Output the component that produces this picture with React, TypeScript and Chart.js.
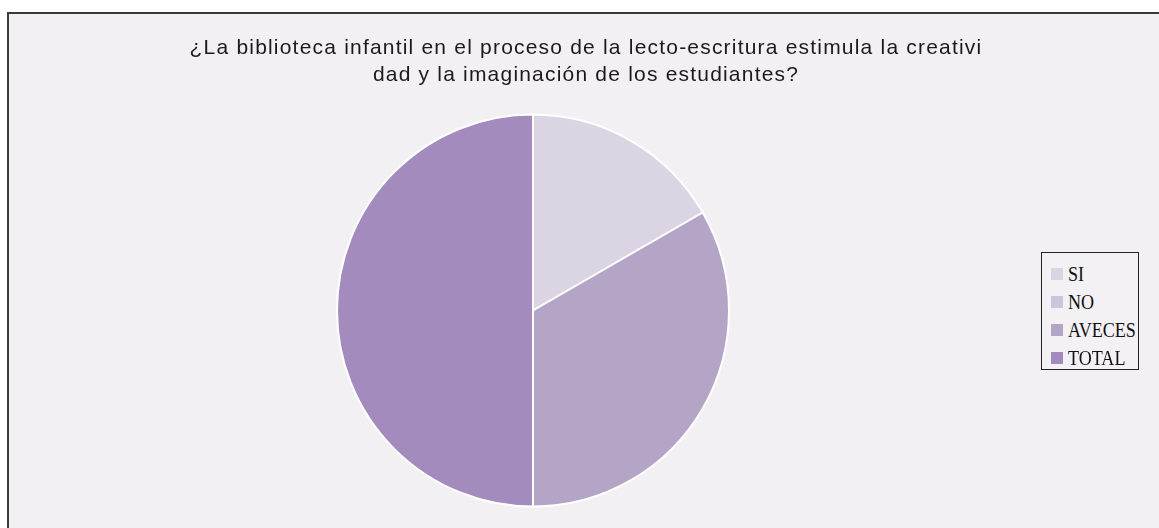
import React, { useEffect, useRef } from "react";
import { Chart, registerables } from "chart.js";

Chart.register(...registerables);

const titleLines = [
  "¿La biblioteca infantil en el proceso de la lecto-escritura estimula la creativi",
  "dad y la imaginación de los estudiantes?",
];
const categories = ["SI", "NO", "AVECES", "TOTAL"];
const values = [5, 0, 10, 15];
const colors = ["#dbd4e3", "#cdc5da", "#b4a5c7", "#a38cbd"];

export default function App() {
  const canvasRef = useRef<HTMLCanvasElement | null>(null);

  useEffect(() => {
    const canvas = canvasRef.current;
    if (!canvas) return;
    const chart = new Chart(canvas, {
      type: "pie",
      data: {
        labels: categories,
        datasets: [
          {
            data: values,
            backgroundColor: colors,
            borderColor: "#ffffff",
            borderWidth: 2,
            radius: 196,
          } as any,
        ],
      },
      options: {
        responsive: false,
        maintainAspectRatio: false,
        animation: false,
        layout: {
          padding: { left: 336.5, right: 429.5, top: 114, bottom: 21 },
        },
        plugins: {
          legend: { display: false },
          title: { display: false },
          tooltip: { enabled: false },
        },
      },
    });
    return () => chart.destroy();
  }, []);

  return (
    <div
      style={{
        position: "fixed",
        left: 0,
        top: 0,
        width: 1159,
        height: 528,
        overflow: "hidden",
        background: "#ffffff",
      }}
    >
      <div
        style={{
          position: "absolute",
          left: 7,
          top: 12,
          width: 1200,
          height: 600,
          borderLeft: "2px solid #3a3a3a",
          borderTop: "2px solid #3a3a3a",
          background: "#f2f0f3",
        }}
      />
      <canvas
        ref={canvasRef}
        width={1159}
        height={528}
        style={{ position: "absolute", left: 0, top: 0, width: 1159, height: 528 }}
      />
      <div
        style={{
          position: "absolute",
          left: 136,
          width: 900,
          top: 33,
          textAlign: "center",
          fontFamily: "'Liberation Sans', Arial, sans-serif",
          fontSize: 21,
          lineHeight: "27px",
          color: "#1a1a1a",
          letterSpacing: "1.2px",
          whiteSpace: "nowrap",
        }}
      >
        {titleLines.map((t, i) => (
          <div key={i}>{t}</div>
        ))}
      </div>
      <div
        style={{
          position: "absolute",
          left: 1041,
          top: 252,
          width: 96,
          height: 109,
          border: "1px solid #222222",
          background: "#f3f1f4",
          paddingTop: 7,
          boxSizing: "content-box",
          fontFamily: "'Liberation Serif', 'Times New Roman', serif",
          fontSize: 21,
          color: "#111111",
        }}
      >
        {categories.map((c, i) => (
          <div
            key={c}
            style={{ height: 28, lineHeight: "28px", whiteSpace: "nowrap", paddingLeft: 9 }}
          >
            <span
              style={{
                display: "inline-block",
                width: 12,
                height: 12,
                marginBottom: 1,
                marginRight: 5,
                background: colors[i],
                verticalAlign: "baseline",
              }}
            />
            <span
              style={{
                display: "inline-block",
                transform: "scaleX(0.86)",
                transformOrigin: "left center",
              }}
            >
              {c}
            </span>
          </div>
        ))}
      </div>
    </div>
  );
}
